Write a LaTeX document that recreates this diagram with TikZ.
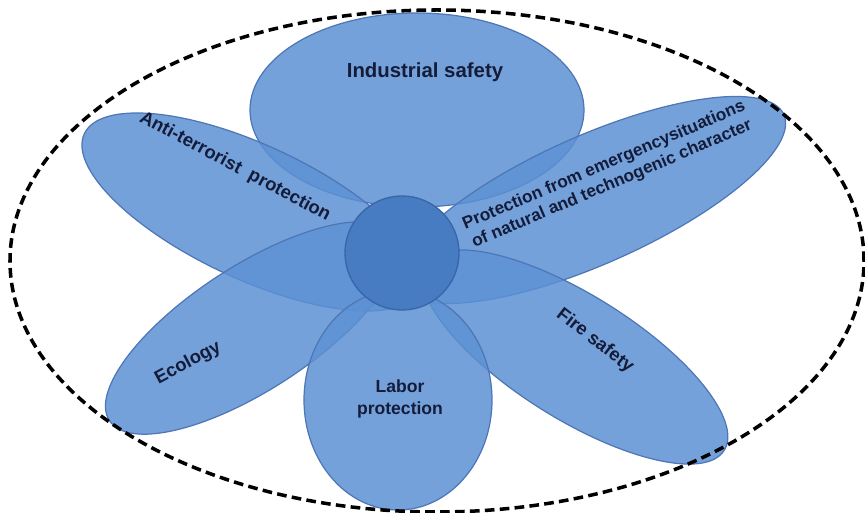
\documentclass[tikz,border=0pt]{standalone}
\usepackage{fontspec}
\setmainfont{Liberation Sans}
\definecolor{petalblue}{RGB}{92,145,212}
\definecolor{petalrim}{RGB}{78,118,182}
\definecolor{hubblue}{RGB}{72,124,194}
\definecolor{hubrim}{RGB}{58,102,170}
\definecolor{labelnavy}{RGB}{20,28,58}

\begin{document}
\begin{tikzpicture}[x = 0.02cm, y = 0.02cm]
\path [use as bounding box] (0,0) rectangle (865,513);
\tikzstyle{petal} = [fill=petalblue, fill opacity=.85, draw=petalrim, line width=.7pt]
\tikzstyle{caption} = [text=labelnavy, font=\bfseries\fontsize{10.5}{12}\selectfont, align=center, inner sep=0pt]
\coordinate (IS) at (417,403);
\coordinate (AT) at (252,301);
\coordinate (PE) at (592,313);
\coordinate (EC) at (252,185);
\coordinate (FS) at (575,156);
\coordinate (LP) at (398,113);
\coordinate (HUB) at (402,260);
\coordinate (OV) at (437,252);
	\draw[petal] (IS) ellipse [x radius=167, y radius=97];
	\draw[petal, rotate around={-25:(AT)}] (AT) ellipse [x radius=185, y radius=67];
	\draw[petal, rotate around={24:(PE)}] (PE) ellipse [x radius=210, y radius=64];
	\draw[petal, rotate around={33:(EC)}] (EC) ellipse [x radius=170, y radius=62];
	\draw[petal, rotate around={-32:(FS)}] (FS) ellipse [x radius=176, y radius=62];
	\draw[petal] (LP) ellipse [x radius=94, y radius=110];
	\draw[fill=hubblue, draw=hubrim, line width=.8pt] (HUB) circle [radius=57];
	\draw[line width=2pt, dash pattern=on 5.5pt off 3pt] (OV) ellipse [x radius=427, y radius=251];
\node[caption, font=\bfseries\fontsize{11.6}{13}\selectfont] (isLabel) at (425,441) {Industrial safety};
\node[caption, rotate=-28] (atLabel) at (235,346) {Anti-terrorist\ \ protection};
\node[caption, rotate=23, font=\bfseries\fontsize{9.8}{11.5}\selectfont] (peLabel) at (608,338) {Protection from emergencysituations\\of natural and technogenic character};
\node[caption, rotate=28] (ecLabel) at (188,150) {Ecology};
\node[caption, rotate=-38] (fsLabel) at (595,172) {Fire safety};
\node[caption, font=\bfseries\fontsize{10}{12}\selectfont] (lpLabel) at (400,114) {Labor\\protection};
\end{tikzpicture}
\end{document}
